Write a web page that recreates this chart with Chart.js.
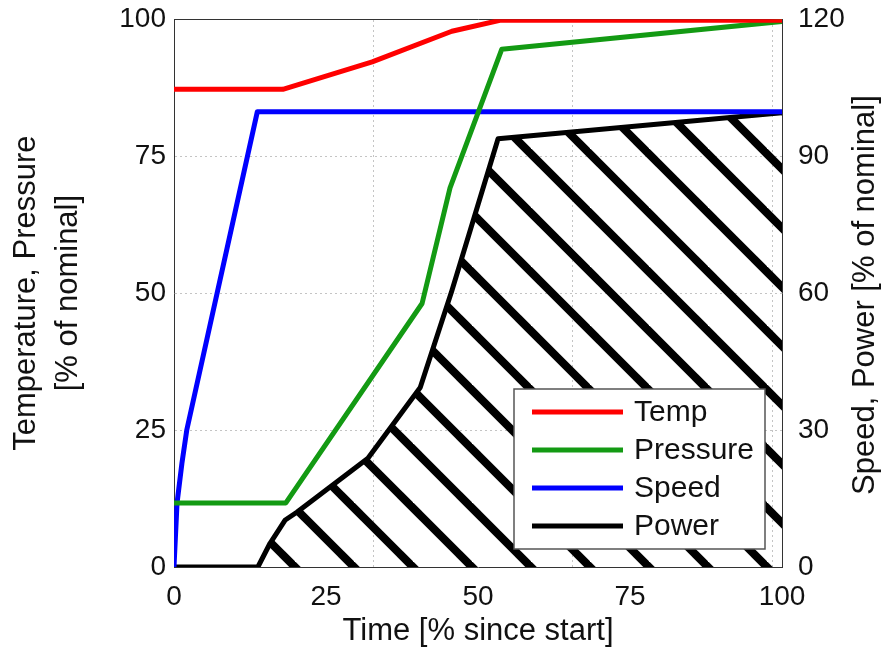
<!DOCTYPE html>
<html>
<head>
<meta charset="utf-8">
<script src="https://cdn.jsdelivr.net/npm/chart.js@4/dist/chart.umd.min.js"></script>
<style>
  html, body { margin: 0; padding: 0; background: #fff; }
</style>
</head>
<body>
<canvas id="myChart" width="884" height="650"></canvas>
<script>
// values (x = time in % since start)
var tempTime = [0, 17.9, 32.6, 45.7, 53.6, 100];
var temp     = [87.2, 87.2, 92.2, 97.8, 99.8, 99.8];

var pressTime = [0, 18.4, 40.8, 45.4, 53.9, 100];
var pressure  = [11.7, 11.7, 48.1, 69.2, 94.5, 99.6];

var speedTime = [0, 0.5, 1.3, 2.1, 13.7, 100];
var speed     = [0, 14, 22.7, 30, 99.7, 99.7];

var powerTime = [0, 13.8, 15.8, 18.3, 20.2, 31.9, 40.5, 45.7, 53.3, 100];
var power     = [0, 0, 5.2, 10.3, 12.0, 23.8, 39.3, 60.5, 93.8, 99.5];

var labels = ['Temp', 'Pressure', 'Speed', 'Power'];
var colors = ['#ff0000', '#139a13', '#0000ff', '#000000'];

var timeTicks = [0, 25, 50, 75, 100];
var leftTicks = [0, 25, 50, 75, 100];
var rightTicks = [0, 30, 60, 90, 120];
var gridTicks = [0, 32.8, 65.6, 98.4];

var FONT = "'Liberation Sans', Arial, sans-serif";

function pts(xs, ys) {
  return xs.map(function (x, i) { return { x: x, y: ys[i] }; });
}

function setTicks(list) {
  return function (scale) {
    scale.ticks = list.map(function (v) { return { value: v }; });
  };
}

// diagonal hatch for the power area
function hatch() {
  var c = document.createElement('canvas');
  c.width = 59; c.height = 59;
  var g = c.getContext('2d');
  g.strokeStyle = '#000';
  g.lineWidth = 8;
  [-36, 23, 82].forEach(function (k) {
    g.beginPath();
    g.moveTo(k - 10, -10);
    g.lineTo(k + 69, 69);
    g.stroke();
  });
  return g.createPattern(c, 'repeat');
}

// legend box inside the plot, bottom right
var boxLegend = {
  id: 'boxLegend',
  afterDatasetsDraw: function (chart) {
    var ctx = chart.ctx, a = chart.chartArea;
    var w = 251, h = 160;
    var x = a.right - 17 - w, y = a.bottom - 18 - h;
    ctx.save();
    ctx.fillStyle = '#fff';
    ctx.fillRect(x, y, w, h);
    ctx.strokeStyle = '#555';
    ctx.lineWidth = 1.5;
    ctx.strokeRect(x, y, w, h);
    ctx.font = '30px ' + FONT;
    ctx.textBaseline = 'middle';
    ctx.fillStyle = '#111';
    chart.data.datasets.forEach(function (ds, i) {
      var ly = y + 23 + 38 * i;
      ctx.strokeStyle = ds.borderColor;
      ctx.lineWidth = 5;
      ctx.beginPath();
      ctx.moveTo(x + 18, ly);
      ctx.lineTo(x + 109, ly);
      ctx.stroke();
      ctx.fillText(ds.label, x + 120, ly + 1);
    });
    ctx.restore();
  }
};

// right axis title reads bottom to top like the left one
var rightTitle = {
  id: 'rightTitle',
  afterDraw: function (chart) {
    var ctx = chart.ctx, a = chart.chartArea;
    ctx.save();
    ctx.translate(a.right + 83, (a.top + a.bottom) / 2 + 2);
    ctx.rotate(-Math.PI / 2);
    ctx.font = '31px ' + FONT;
    ctx.fillStyle = '#111';
    ctx.textAlign = 'center';
    ctx.textBaseline = 'middle';
    ctx.fillText('Speed, Power [% of nominal]', 0, 0);
    ctx.restore();
  }
};

var gridColor = function (c) {
  return (c.tick && (c.index === 0 || c.index === c.scale.ticks.length - 1)) ? 'rgba(0,0,0,0)' : '#c4c4c4';
};

var ctx = document.getElementById('myChart');
var myChart = new Chart(ctx, {
  type: 'line',
  data: {
    datasets: [
      { label: labels[0], data: pts(tempTime, temp), borderColor: colors[0], yAxisID: 'y', xAxisID: 'x' },
      { label: labels[1], data: pts(pressTime, pressure), borderColor: colors[1], yAxisID: 'y', xAxisID: 'x' },
      { label: labels[2], data: pts(speedTime, speed), borderColor: colors[2], yAxisID: 'y1', xAxisID: 'x' },
      { label: labels[3], data: pts(powerTime, power), borderColor: colors[3], yAxisID: 'y1', xAxisID: 'x',
        fill: 'origin', backgroundColor: hatch() }
    ]
  },
  options: {
    responsive: false,
    animation: false,
    layout: { padding: 0 },
    elements: {
      point: { radius: 0, hoverRadius: 0 },
      line: { borderWidth: 5, tension: 0, borderJoinStyle: 'round', borderCapStyle: 'butt', fill: false }
    },
    plugins: { legend: { display: false }, tooltip: { enabled: false } },
    scales: {
      x: {
        type: 'linear', position: 'bottom', min: 0, max: 100,
        afterBuildTicks: setTicks(timeTicks),
        afterFit: function (s) { s.height = 83; },
        grid: { display: false },
        border: { display: true, color: '#333', width: 1 },
        ticks: { font: { family: FONT, size: 28 }, color: '#111', padding: 5, maxRotation: 0 },
        title: { display: true, text: 'Time [% since start]', color: '#111',
                 font: { family: FONT, size: 31 }, padding: { top: 0, bottom: 0 } }
      },
      xg: {
        type: 'linear', position: 'top', min: 0, max: 100,
        afterBuildTicks: setTicks(gridTicks),
        afterFit: function (s) { s.height = 9; },
        ticks: { display: false },
        grid: { color: '#c4c4c4', drawTicks: false },
        border: { display: true, color: '#333', width: 1, dash: [2, 3] }
      },
      y: {
        type: 'linear', position: 'left', min: 0, max: 100,
        afterBuildTicks: setTicks(leftTicks),
        afterFit: function (s) { s.width = 174; },
        grid: { color: gridColor, drawTicks: false },
        border: { display: true, color: '#333', width: 1, dash: [2, 3] },
        ticks: { font: { family: FONT, size: 28, lineHeight: 0.8 }, color: '#111', padding: 8 },
        title: { display: true, text: ['Temperature, Pressure', '[% of nominal]'], color: '#111',
                 font: { family: FONT, size: 31, lineHeight: 1.35 }, padding: { top: 6, bottom: 0 } }
      },
      y1: {
        type: 'linear', position: 'right', min: 0, max: 120,
        afterBuildTicks: setTicks(rightTicks),
        afterFit: function (s) { s.width = 102; },
        grid: { display: false },
        border: { display: true, color: '#333', width: 1 },
        ticks: { font: { family: FONT, size: 28, lineHeight: 0.8 }, color: '#111', padding: 8 }
      }
    }
  },
  plugins: [boxLegend, rightTitle]
});
</script>
</body>
</html>
